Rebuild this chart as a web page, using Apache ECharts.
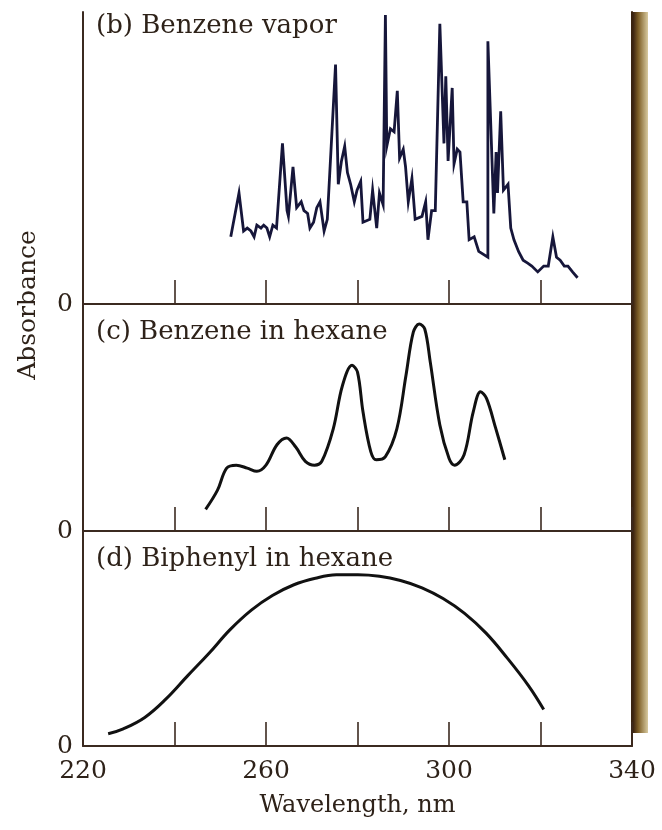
<!DOCTYPE html>
<html>
<head>
<meta charset="utf-8">
<script src="https://cdn.jsdelivr.net/npm/echarts@6/dist/echarts.min.js"></script>
<style>
  html, body { margin: 0; padding: 0; background: #fff; }
  #chart { width: 662px; height: 830px; }
</style>
</head>
<body>
<div id="chart"></div>
<script>
// wavelength ticks (nm)
var wlMin = 220, wlMax = 340, wlStep = 20;

// (b) benzene vapor, absorbance in % of panel height
var vaporWl = [252.3,254.1,255.1,255.9,256.7,257.4,258.0,258.9,259.5,260.2,260.8,261.5,262.3,263.6,264.6,264.9,265.9,266.7,267.7,268.3,269.1,269.6,270.4,271.1,271.8,272.7,273.4,275.2,275.8,276.5,277.2,277.8,278.5,279.3,279.9,280.7,281.2,282.7,283.3,284.2,284.8,285.6,286.1,286.4,287.2,288.0,288.7,289.2,290.0,290.5,291.1,291.9,292.6,294.1,294.9,295.4,296.2,297.0,298.0,298.9,299.3,299.8,300.7,301.1,301.8,302.4,303.1,303.9,304.4,305.5,306.5,308.5,308.5,309.8,310.3,310.6,311.3,311.9,312.9,313.5,314.2,315.2,316.2,317.2,318.1,319.4,320.7,321.7,322.7,323.5,324.3,325.2,326.0,327.0,328.1];
var vaporAbs = [23,38,25,26,25,23,27,26,27,26,23,27,26,55,32,30,47,33,35,32,31,26,28,33,35,25,29,82,41,49,54,45,41,35,39,42,28,29,39,26,38,34,99,54,60,59,73,50,53,47,35,43,29,30,35,22,32,32,96,55,78,49,74,48,53,52,35,35,22,23,18,16,90,31,52,38,66,39,41,26,22,18,15,14,13,11,13,13,23,16,15,13,13,11,9];

// (c) benzene in hexane
var hexWl = [246.8,249.4,251.4,253.5,255.9,258.0,260.0,262.4,264.5,266.5,268.6,270.6,272.2,274.7,276.7,278.8,280.0,281.2,282.9,284.1,286.1,288.6,290.6,292.2,293.5,294.7,295.9,298.0,300.0,301.2,303.3,305.3,306.9,308.2,310.2,312.2];
var hexAbs = [9.5,18,27.7,29,27.7,26.3,29,38,41,37,30.7,29,30.7,45,64,73,70,52.5,35,31.4,32.8,45,68.6,87.6,91.2,89,74.5,46.7,32,29,33.6,52.5,61.3,58.4,45.3,31.4];

// (d) biphenyl in hexane
var biWl = [225.5,228.8,233.5,238.1,242.8,247.5,252.1,256.8,261.4,266.1,270.8,275.4,280.1,284.8,289.4,294.1,298.7,303.4,308.1,312.7,317.4,320.7];
var biAbs = [5.7,8,13.3,21.8,32.5,43,54,63.2,70,75,78,79.6,79.7,79,77,73.6,68.6,61.7,52.5,41,28,17];

var panelNames = ['(b) Benzene vapor', '(c) Benzene in hexane', '(d) Biphenyl in hexane'];

function pairs(xs, ys) {
    var out = [];
    for (var i = 0; i < xs.length; i++) out.push([xs[i], ys[i]]);
    return out;
}

var ink = '#2e2219';
var axisInk = '#3b2a20';
// the scan is stretched sideways, DejaVu Serif's wide glyphs fit it better than Times
var serif = '"DejaVu Serif", "Liberation Serif", serif';

var grids = [
    {left: 83, right: 30, top: 12, height: 292},
    {left: 83, right: 30, top: 304, height: 227},
    {left: 83, right: 30, top: 531, height: 215}
];
var titleTops = [8, 314, 541];

var xAxes = [], yAxes = [], titles = [];
for (var g = 0; g < 3; g++) {
    var last = (g == 2);
    xAxes.push({
        type: 'value', gridIndex: g, min: wlMin, max: wlMax, interval: wlStep,
        axisLine: {show: true, lineStyle: {color: axisInk, width: 2}},
        axisTick: {show: true, inside: true, length: 24, lineStyle: {color: axisInk, width: 1.6}},
        splitLine: {show: false},
        axisLabel: {
            show: last, margin: 13, color: ink, fontFamily: serif, fontSize: 25,
            showMinLabel: true, showMaxLabel: true,
            formatter: function (v) { return ((v - wlMin) % 40 == 0) ? String(v) : ''; }
        },
        name: last ? 'Wavelength, nm' : '',
        nameLocation: 'middle', nameGap: 48,
        nameTextStyle: {color: ink, fontFamily: serif, fontSize: 24}
    });
    yAxes.push({
        type: 'value', gridIndex: g, min: 0, max: 100, interval: 100,
        axisLine: {show: true, lineStyle: {color: axisInk, width: 2}},
        axisTick: {show: false},
        splitLine: {show: false},
        axisLabel: {
            margin: 10, color: ink, fontFamily: serif, fontSize: 25,
            formatter: function (v) { return v == 0 ? '0' : ''; }
        }
    });
    yAxes.push({
        type: 'value', gridIndex: g, min: 0, max: 100, position: 'right',
        axisLine: {show: true, lineStyle: {color: '#3a2410', width: 2}},
        axisTick: {show: false}, axisLabel: {show: false}, splitLine: {show: false}
    });
    titles.push({
        text: panelNames[g], left: 91, top: titleTops[g],
        textStyle: {color: ink, fontFamily: serif, fontSize: 26, fontWeight: 'normal'}
    });
}

var option = {
    backgroundColor: '#ffffff',
    animation: false,
    title: titles,
    grid: grids,
    xAxis: xAxes,
    yAxis: yAxes,
    series: [
        {
            type: 'line', xAxisIndex: 0, yAxisIndex: 0, data: pairs(vaporWl, vaporAbs),
            symbol: 'none', clip: false,
            lineStyle: {color: '#16163a', width: 2.8, join: 'miter'}
        },
        {
            type: 'line', xAxisIndex: 1, yAxisIndex: 2, data: pairs(hexWl, hexAbs),
            symbol: 'none', smooth: 0.35, clip: false,
            lineStyle: {color: '#111111', width: 3}
        },
        {
            type: 'line', xAxisIndex: 2, yAxisIndex: 4, data: pairs(biWl, biAbs),
            symbol: 'none', smooth: 0.4, clip: false,
            lineStyle: {color: '#111111', width: 3}
        }
    ],
    graphic: [
        {
            // dark page edge from the scan
            type: 'rect', z: -1,
            shape: {x: 633, y: 12, width: 15, height: 721},
            style: {
                fill: new echarts.graphic.LinearGradient(0, 0, 1, 0, [
                    {offset: 0, color: '#3a2210'},
                    {offset: 0.35, color: '#7d5e26'},
                    {offset: 1, color: '#d8caa0'}
                ])
            }
        },
        {
            type: 'text', x: 28, y: 305, rotation: Math.PI / 2,
            style: {
                text: 'Absorbance', fill: ink, font: '25px ' + serif,
                textAlign: 'center', textVerticalAlign: 'middle'
            }
        }
    ]
};

var myChart = echarts.init(document.getElementById('chart'));
myChart.setOption(option);
</script>
</body>
</html>
